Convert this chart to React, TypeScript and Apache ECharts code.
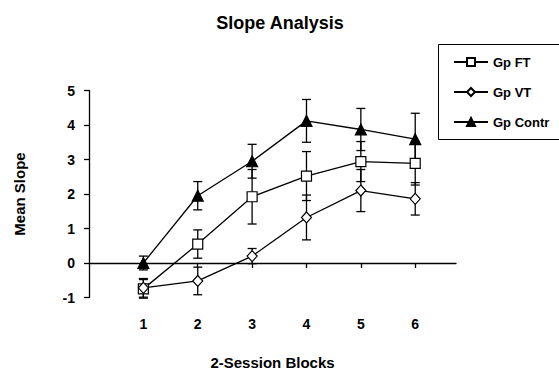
import React, { useEffect, useRef } from "react";
import * as echarts from "echarts";

const blocks = [1, 2, 3, 4, 5, 6];
const ftMean = [-0.75, 0.55, 1.92, 2.52, 2.94, 2.89];
const ftErr = [0.27, 0.41, 0.79, 0.71, 0.58, 0.63];
const vtMean = [-0.72, -0.52, 0.2, 1.32, 2.1, 1.86];
const vtErr = [0.27, 0.4, 0.22, 0.65, 0.61, 0.47];
const ctrMean = [0.0, 1.95, 2.95, 4.12, 3.87, 3.59];
const ctrErr = [0.2, 0.41, 0.49, 0.62, 0.61, 0.75];
const seriesNames = ["Gp FT", "Gp VT", "Gp Contr"];

const FONT = "Arial, 'Liberation Sans', sans-serif";

function errSeries(name: string, mean: number[], err: number[]) {
  return {
    type: "custom",
    name,
    z: 1,
    silent: true,
    encode: { x: 0, y: 1 },
    data: blocks.map((b, i) => [b, mean[i], err[i]]),
    renderItem: (_params: any, api: any) => {
      const x = api.value(0);
      const m = api.value(1);
      const e = api.value(2);
      const top = api.coord([x, m + e]);
      const bot = api.coord([x, m - e]);
      const w = 4.5;
      const st = { stroke: "#000", lineWidth: 1.3 };
      return {
        type: "group",
        children: [
          { type: "line", shape: { x1: top[0], y1: top[1], x2: bot[0], y2: bot[1] }, style: st },
          { type: "line", shape: { x1: top[0] - w, y1: top[1], x2: top[0] + w, y2: top[1] }, style: st },
          { type: "line", shape: { x1: bot[0] - w, y1: bot[1], x2: bot[0] + w, y2: bot[1] }, style: st },
        ],
      };
    },
  };
}

function lineSeries(name: string, mean: number[], symbol: string, size: any, fill: string) {
  return {
    type: "line",
    name,
    z: 3,
    data: blocks.map((b, i) => [b, mean[i]]),
    symbol,
    symbolSize: size,
    showAllSymbol: true,
    lineStyle: { color: "#000", width: 1.3 },
    itemStyle: { color: fill, borderColor: "#000", borderWidth: 1.2 },
  };
}

export default function App() {
  const ref = useRef<HTMLDivElement>(null);
  useEffect(() => {
    document.body.style.margin = "0";
    if (!ref.current) return;
    const chart = echarts.init(ref.current, null, { renderer: "svg" });
    chart.setOption({
      animation: false,
      backgroundColor: "#fff",
      textStyle: { fontFamily: FONT },
      graphic: [
        {
          type: "text",
          x: 280,
          y: 23,
          style: {
            text: "Slope Analysis",
            font: `bold 18px ${FONT}`,
            fill: "#000",
            textAlign: "center",
            textVerticalAlign: "middle",
          },
        },
        {
          type: "rect",
          shape: { x: 438.5, y: 44.5, width: 200, height: 95 },
          style: { fill: "none", stroke: "#000", lineWidth: 1 },
          silent: true,
        },
      ],
      legend: {
        data: seriesNames,
        orient: "vertical",
        left: 438,
        top: 44,
        padding: [11, 0, 13, 15],
        itemGap: 16,
        itemWidth: 34,
        itemHeight: 10,
        borderWidth: 0,
        textStyle: { fontFamily: FONT, fontWeight: "bold", fontSize: 13, color: "#000", lineHeight: 14 },
      },
      grid: {
        left: 89,
        right: 103,
        top: 90.5,
        bottom: 78.5,
        containLabel: false,
        outerBoundsMode: "none",
      },
      xAxis: {
        type: "value",
        min: 0,
        max: 6.75,
        name: "2-Session Blocks",
        nameLocation: "middle",
        nameGap: 57,
        nameTextStyle: { fontFamily: FONT, fontWeight: "bold", fontSize: 15, color: "#000", verticalAlign: "top" },
        axisLine: { show: true, onZero: true, lineStyle: { color: "#000", width: 1.3 } },
        axisTick: { show: true, length: 5, customValues: blocks, lineStyle: { color: "#000", width: 1.3 } },
        axisLabel: {
          customValues: blocks,
          margin: 19,
          fontFamily: FONT,
          fontWeight: "bold",
          fontSize: 14,
          color: "#000",
        },
        splitLine: { show: false },
      },
      yAxis: {
        type: "value",
        min: -1,
        max: 5,
        interval: 1,
        name: "Mean Slope",
        nameLocation: "middle",
        nameGap: 62,
        nameRotate: 90,
        nameTextStyle: { fontFamily: FONT, fontWeight: "bold", fontSize: 15, color: "#000" },
        axisLine: { show: true, lineStyle: { color: "#000", width: 1.3 } },
        axisTick: { show: true, length: 5, lineStyle: { color: "#000", width: 1.3 } },
        axisLabel: { margin: 14, fontFamily: FONT, fontWeight: "bold", fontSize: 14, color: "#000" },
        splitLine: { show: false },
      },
      series: [
        errSeries("FT err", ftMean, ftErr),
        errSeries("VT err", vtMean, vtErr),
        errSeries("Contr err", ctrMean, ctrErr),
        lineSeries("Gp FT", ftMean, "rect", 10, "#fff"),
        lineSeries("Gp VT", vtMean, "diamond", [10, 11], "#fff"),
        lineSeries("Gp Contr", ctrMean, "triangle", 11, "#000"),
      ],
    });
    return () => chart.dispose();
  }, []);
  return <div ref={ref} style={{ width: 559, height: 376 }} />;
}
